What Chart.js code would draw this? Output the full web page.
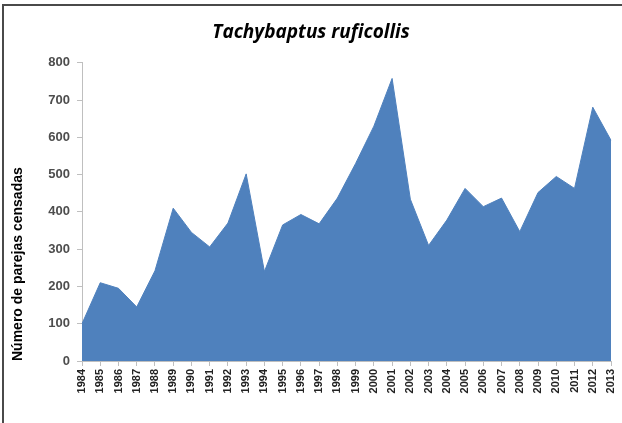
<!DOCTYPE html>
<html>
<head>
<meta charset="utf-8">
<script src="https://cdn.jsdelivr.net/npm/chart.js@4"></script>
<style>
  html, body { margin: 0; padding: 0; background: #fff; }
  #wrap { width: 622px; height: 423px; position: relative; }
</style>
</head>
<body>
<div id="wrap"><canvas id="chart" width="622" height="423"></canvas></div>
<script>
// Census data
const years = ['1984', '1985', '1986', '1987', '1988', '1989', '1990', '1991', '1992', '1993',
               '1994', '1995', '1996', '1997', '1998', '1999', '2000', '2001', '2002', '2003',
               '2004', '2005', '2006', '2007', '2008', '2009', '2010', '2011', '2012', '2013'];
const pairs = [100, 210, 195, 145, 242, 410, 345, 306, 370, 502,
               240, 365, 393, 368, 437, 530, 630, 758, 434, 310,
               378, 463, 414, 437, 347, 452, 495, 463, 681, 592];
const yTicks = [0, 100, 200, 300, 400, 500, 600, 700, 800];

// draws the dark frame line along the top and left edge
const framePlugin = {
    id: 'frame',
    beforeDraw(chart) {
        const ctx = chart.ctx;
        ctx.save();
        ctx.fillStyle = '#fff';
        ctx.fillRect(0, 0, chart.width, chart.height);
        ctx.strokeStyle = '#4a4a4a';
        ctx.lineWidth = 2;
        ctx.beginPath();
        ctx.moveTo(3, chart.height);
        ctx.lineTo(3, 5);
        ctx.lineTo(chart.width, 5);
        ctx.stroke();
        ctx.restore();
    }
};

new Chart(document.getElementById('chart'), {
    type: 'line',
    data: {
        labels: years,
        datasets: [{
            data: pairs,
            fill: 'origin',
            backgroundColor: '#4f81bd',
            borderColor: '#4f81bd',
            borderWidth: 1,
            pointRadius: 0,
            tension: 0
        }]
    },
    options: {
        responsive: false,
        animation: false,
        layout: { padding: { left: 0, right: 0, top: 0, bottom: 0 } },
        plugins: {
            legend: { display: false },
            tooltip: { enabled: false },
            title: {
                display: true,
                text: 'Tachybaptus ruficollis',
                color: '#000',
                font: { family: 'Open Sans', size: 19, weight: 'bold', style: 'italic' },
                padding: { top: 21, bottom: 19 }
            }
        },
        scales: {
            x: {
                offset: false,
                grid: {
                    drawOnChartArea: false,
                    tickLength: 5,
                    color: '#bfbfbf'
                },
                border: { color: '#bfbfbf' },
                ticks: {
                    autoSkip: false,
                    minRotation: 90,
                    maxRotation: 90,
                    padding: 3,
                    color: '#222',
                    font: { family: 'Liberation Sans', size: 11, weight: 'bold' }
                },
                afterFit(scale) {
                    scale.height = 62;
                    scale.paddingRight = 11;
                }
            },
            y: {
                min: 0,
                max: 800,
                afterBuildTicks(scale) {
                    scale.ticks = yTicks.map(v => ({ value: v }));
                },
                grid: {
                    drawOnChartArea: false,
                    tickLength: 5,
                    color: '#bfbfbf'
                },
                border: { color: '#bfbfbf' },
                ticks: {
                    padding: 7,
                    color: '#4d4d4d',
                    font: { family: 'Liberation Sans', size: 13, weight: 'bold' }
                },
                title: {
                    display: true,
                    text: 'Número de parejas censadas',
                    align: 'start',
                    color: '#000',
                    font: { family: 'Liberation Sans', size: 14, weight: 'bold' },
                    padding: { top: 10, bottom: 0 }
                },
                afterFit(scale) { scale.width = 82; }
            }
        }
    },
    plugins: [framePlugin]
});
</script>
</body>
</html>
